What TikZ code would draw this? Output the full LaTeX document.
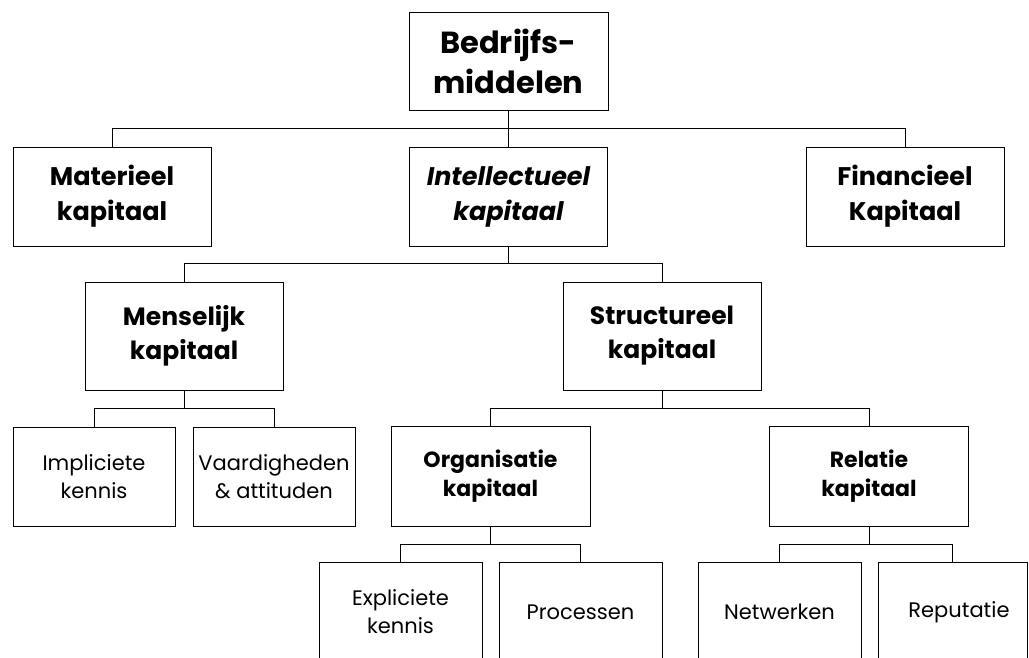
\documentclass[tikz,border=0pt]{standalone}
\usepackage{fontspec}
\setmainfont{Poppins}
\usetikzlibrary{calc}
\begin{document}
\begin{tikzpicture}[x=1pt,y=-1pt,
  box/.style={draw,line width=0.9pt,rectangle,inner sep=0pt,align=center,text=black},
  big/.style={box,minimum width=199pt,minimum height=98pt,font=\bfseries\fontsize{30.5}{40}\selectfont},
  mid/.style={box,minimum width=198pt,minimum height=99pt,font=\bfseries\fontsize{25.5}{35}\selectfont},
  mid2/.style={box,minimum width=198pt,minimum height=108pt,font=\bfseries\fontsize{25}{34}\selectfont},
  sub/.style={box,minimum width=199pt,minimum height=100pt,font=\bfseries\fontsize{22}{29}\selectfont},
  leaf/.style={box,minimum width=162pt,minimum height=99pt,font=\fontsize{21}{28}\selectfont},
  link/.style={draw,line width=0.9pt}]
\useasboundingbox (0,0) rectangle (1029,658);
\clip (0,0) rectangle (1029,658);
% level 0
\node[big] (top) at (508.5,61) {Bedrijfs-\\middelen};
% level 1
\node[mid] (mat) at (112,196.5) {Materieel\\kapitaal};
\node[mid] (int) at (508.5,196.5) {\itshape Intellectueel\\\itshape kapitaal};
\node[mid] (fin) at (905,196.5) {Financieel\\Kapitaal};
% level 2
\node[mid2] (mens) at (184,336) {Menselijk\\kapitaal};
\node[mid2] (str) at (662,336) {Structureel\\kapitaal};
% level 3
\node[leaf] (impl) at (94,476.5) {Impliciete\\kennis};
\node[leaf] (vaard) at (274,476.5) {Vaardigheden\\\& attituden};
\node[sub] (org) at (490.5,476) {Organisatie\\kapitaal};
\node[sub] (rel) at (869,476) {Relatie\\kapitaal};
% level 4
\node[leaf,minimum width=163pt,minimum height=100pt] (expl) at (400.5,612) {Expliciete\\kennis};
\node[leaf,minimum width=163pt,minimum height=100pt] (proc) at (580.5,612) {Processen};
\node[leaf,minimum width=163pt,minimum height=100pt] (netw) at (779.5,612) {Netwerken};
\node[leaf,minimum width=149pt,minimum height=100pt] (rep) at (952.5,612) {\hspace*{13pt}Reputatie};
% bus levels
\coordinate (b0) at (0,128);
\coordinate (b1) at (0,263);
\coordinate (b2) at (0,408);
\coordinate (b3) at (0,544);
% connectors
\draw[link] (top.south) -- (int.north);
\draw[link] (top.south |- b0) -| (mat.north);
\draw[link] (top.south |- b0) -| (fin.north);
\draw[link] (int.south) -- (int.south |- b1);
\draw[link] (int.south |- b1) -| (mens.north);
\draw[link] (int.south |- b1) -| (str.north);
\draw[link] (mens.south) -- (mens.south |- b2);
\draw[link] (mens.south |- b2) -| (impl.north);
\draw[link] (mens.south |- b2) -| (vaard.north);
\draw[link] (str.south) -- (str.south |- b2);
\draw[link] (str.south |- b2) -| (org.north);
\draw[link] (str.south |- b2) -| (rel.north);
\draw[link] (org.south) -- (org.south |- b3);
\draw[link] (org.south |- b3) -| (expl.north);
\draw[link] (org.south |- b3) -| (proc.north);
\draw[link] (rel.south) -- (rel.south |- b3);
\draw[link] (rel.south |- b3) -| (netw.north);
\draw[link] (rel.south |- b3) -| (rep.north);
\end{tikzpicture}
\end{document}
